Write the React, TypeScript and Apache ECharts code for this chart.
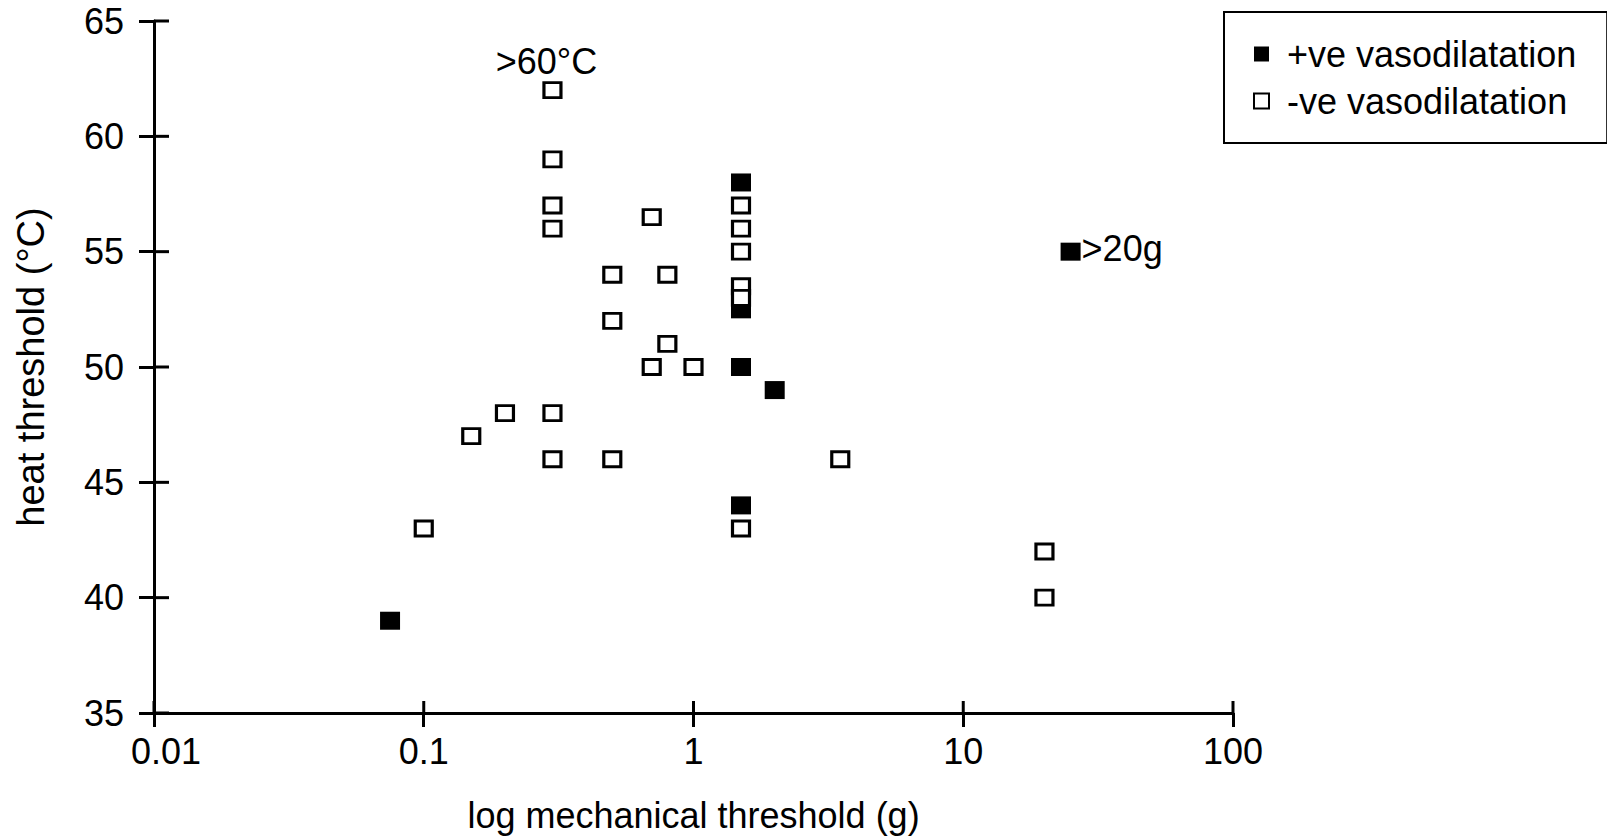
import React, { useEffect, useRef } from "react";
import * as echarts from "echarts";

const FONT = "'Liberation Sans', Arial, Helvetica, sans-serif";

// Axes
const xTickValues = [0.01, 0.1, 1, 10, 100];
const xTickLabels = ["0.01", "0.1", "1", "10", "100"];
const yTickValues = [35, 40, 45, 50, 55, 60, 65];
const yStep = 5;
const xAxisTitle = "log mechanical threshold (g)";
const yAxisTitle = "heat threshold (°C)";

// Series
const positiveName = "+ve vasodilatation";
const negativeName = "-ve vasodilatation";

const positiveX = [0.075, 1.5, 1.5, 1.5, 2, 1.5, 25];
const positiveY = [39, 58, 52.5, 50, 49, 44, 55];

const negativeX = [0.3, 0.3, 0.3, 0.3, 0.7, 1.5, 1.5, 1.5, 1.5, 1.5, 0.5, 0.8, 0.5, 0.8, 0.7, 1, 0.2, 0.3, 0.15, 0.3, 0.5, 3.5, 0.1, 1.5, 20, 20];
const negativeY = [62, 59, 57, 56, 56.5, 57, 56, 55, 53.5, 53, 54, 54, 52, 51, 50, 50, 48, 48, 47, 46, 46, 46, 43, 43, 42, 40];

// Point annotations (index in series -> text)
const positiveNotes: Record<number, string> = { 6: ">20g" };
const negativeNotes: Record<number, string> = { 0: ">60°C" };

const xMin = xTickValues[0];
const xMax = xTickValues[xTickValues.length - 1];
const yMin = yTickValues[0];
const yMax = yTickValues[yTickValues.length - 1];

const textBase = { color: "#000", fontFamily: FONT, fontSize: 36 };

function buildData(xs: number[], ys: number[], notes: Record<number, string>, labelCfg: any) {
  return xs.map((x, i) =>
    notes[i] !== undefined
      ? { value: [x, ys[i]], label: { show: true, formatter: notes[i], ...textBase, ...labelCfg } }
      : { value: [x, ys[i]] }
  );
}

function xLabel(v: number) {
  let best = 0;
  let bestD = Infinity;
  xTickValues.forEach((t, i) => {
    const d = Math.abs(Math.log10(t) - Math.log10(v));
    if (d < bestD) {
      bestD = d;
      best = i;
    }
  });
  return best === 0 ? "{first|" + xTickLabels[best] + "}" : xTickLabels[best];
}

const axisLineStyle = { color: "#000", width: 3 };

export default function App() {
  const ref = useRef<HTMLDivElement>(null);
  useEffect(() => {
    document.body.style.margin = "0";
    const chart = echarts.init(ref.current!, null, { renderer: "svg" });
    const option: any = {
      animation: false,
      backgroundColor: "#fff",
      textStyle: { fontFamily: FONT, color: "#000" },
      grid: { left: 154, right: 374, top: 21, bottom: 125, containLabel: false },
      legend: {
        orient: "vertical",
        left: 1224,
        top: 12,
        padding: [24, 31, 24, 29],
        borderColor: "#000",
        borderWidth: 2,
        itemWidth: 15,
        itemHeight: 15,
        itemGap: 11,
        selectedMode: false,
        textStyle: { ...textBase, padding: [0, 0, 7, 13] },
        data: [
          { name: positiveName, icon: "rect", itemStyle: { color: "#000", borderWidth: 0, opacity: 1 } },
          { name: negativeName, icon: "rect", itemStyle: { color: "#fff", borderColor: "#000", borderWidth: 2, opacity: 1 } },
        ],
      },
      xAxis: {
        type: "log",
        logBase: 10,
        min: xMin,
        max: xMax,
        position: "bottom",
        name: xAxisTitle,
        nameLocation: "middle",
        nameGap: 84,
        nameTextStyle: { ...textBase },
        axisLine: { show: true, onZero: false, lineStyle: axisLineStyle },
        axisTick: { show: true, inside: false, length: 14, lineStyle: axisLineStyle },
        axisLabel: {
          show: true,
          margin: 20,
          formatter: xLabel,
          ...textBase,
          rich: { first: { ...textBase, padding: [0, 0, 0, 24] } },
        },
        splitLine: { show: false },
        minorTick: { show: false },
      },
      yAxis: {
        type: "value",
        min: yMin,
        max: yMax,
        interval: yStep,
        position: "left",
        name: yAxisTitle,
        nameLocation: "middle",
        nameRotate: 90,
        nameGap: 104,
        nameTextStyle: { ...textBase, fontSize: 38 },
        axisLine: { show: true, onZero: false, lineStyle: axisLineStyle },
        axisTick: { show: true, inside: false, length: 15, lineStyle: axisLineStyle },
        axisLabel: { show: true, margin: 30, ...textBase },
        splitLine: { show: false },
      },
      series: [
        {
          type: "scatter",
          name: positiveName,
          symbol: "rect",
          symbolSize: [20, 18],
          itemStyle: { color: "#000", opacity: 1 },
          emphasis: { disabled: true },
          data: buildData(positiveX, positiveY, positiveNotes, { position: "right", distance: 1, offset: [0, -3] }),
        },
        {
          type: "scatter",
          name: negativeName,
          symbol: "rect",
          symbolSize: [17, 15],
          itemStyle: { color: "#fff", borderColor: "#000", borderWidth: 3, opacity: 1 },
          emphasis: { disabled: true },
          data: buildData(negativeX, negativeY, negativeNotes, { position: "top", distance: 2, offset: [-6, 0] }),
        },
      ],
    };
    chart.setOption(option);

    // inner halves of the crossing tick marks, placed through the axes' own scales
    const finder = { xAxisIndex: 0, yAxisIndex: 0 };
    const tickStyle = { stroke: "#000", lineWidth: 3 };
    const innerTicks: any[] = [];
    xTickValues.forEach((v) => {
      const p = chart.convertToPixel(finder, [v, yMin]) as number[];
      if (p && isFinite(p[0]) && isFinite(p[1])) {
        innerTicks.push({ type: "line", silent: true, z: 10, shape: { x1: p[0], y1: p[1], x2: p[0], y2: p[1] - 12 }, style: tickStyle });
      }
    });
    yTickValues.forEach((v) => {
      const p = chart.convertToPixel(finder, [xMin, v]) as number[];
      if (p && isFinite(p[0]) && isFinite(p[1])) {
        innerTicks.push({ type: "line", silent: true, z: 10, shape: { x1: p[0], y1: p[1], x2: p[0] + 15, y2: p[1] }, style: tickStyle });
      }
    });
    chart.setOption({ graphic: innerTicks });

    return () => chart.dispose();
  }, []);
  return <div ref={ref} style={{ width: 1607, height: 838 }} />;
}
